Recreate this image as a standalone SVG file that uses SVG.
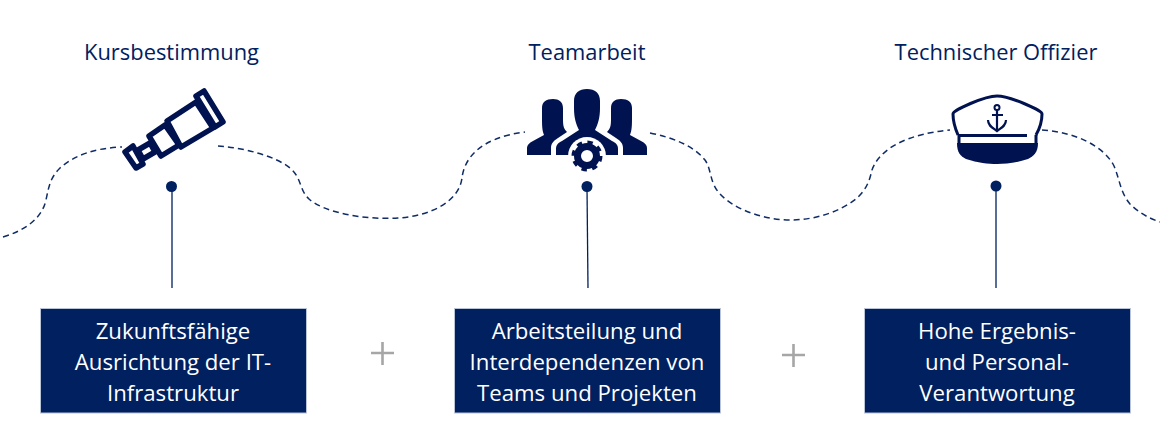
<svg xmlns="http://www.w3.org/2000/svg" width="1160" height="432" viewBox="0 0 1160 432">
<style>
.t{font-family:"Open Sans","Noto Sans",sans-serif;font-size:21.9px;fill:#002060;text-anchor:middle}
.b{font-family:"Open Sans","Noto Sans",sans-serif;font-size:22.2px;fill:#fff;text-anchor:middle}
.box{fill:#002060;stroke:#b9c4d8;stroke-width:1}
.dash{fill:none;stroke:#0f2c66;stroke-width:1.5;stroke-dasharray:6 4}
.line{fill:none;stroke:#002060;stroke-width:1.3}
.dot{fill:#002060}
.plus{stroke:#a6a6a6;stroke-width:2.6;fill:none}
.ic{fill:#00124f}
.icl{fill:none;stroke:#00124f;stroke-linejoin:round}
</style>
<rect width="1160" height="432" fill="#fff"/>
<g id="connectors">
<path class="dash" d="M3 237C26 230 42 218 46 200C49 186 50 178 60 168C75 155 95 148 122 147"/>
<path class="dash" d="M218 146C245 148 275 156 290 168C302 178 299 190 309 199C325 213 365 220 398 218C430 216 459 202 462 178C464 160 478 138 525 132"/>
<path class="dash" d="M650 133C675 138 695 147 705 160C712 170 709 182 720 194C735 210 765 220 790 220C815 220 840 212 857 198C868 188 870 178 872 170C880 148 908 134 950 130"/>
<path class="dash" d="M1042 130C1075 132 1104 146 1114 166C1120 180 1120 192 1130 204C1138 212 1148 218 1160 222"/>
<line class="line" x1="172" y1="187" x2="172" y2="288"/>
<line class="line" x1="587" y1="187" x2="588" y2="288"/>
<line class="line" x1="996" y1="186" x2="996" y2="288"/>
<circle class="dot" cx="171.500" cy="186.500" r="5.500"/>
<circle class="dot" cx="587" cy="186.500" r="5.500"/>
<circle class="dot" cx="996" cy="186" r="5.500"/>
</g>
<g id="node-kurs">
<text class="t" x="171.500" y="60">Kursbestimmung</text>
<g class="icl" stroke-width="5.500">
<path d="M125 152L133 146L143 164L136 168Z"/>
<path d="M138 150L150 143L155 152L143 159Z"/>
<path d="M149 136L165 125L179 145L161 156Z"/>
<path d="M167 121L196 102L213 128L181 147Z"/>
<path d="M196 96L204 91L223 122L215 127Z"/>
</g>
</g>
<g id="node-team">
<text class="t" x="587" y="60">Teamarbeit</text>
<path class="ic" d="M527 155V148C527 145 529 143 533 141L544 135C542 130 542 125 542 116V108C542 102 546 99 553 99C559 99 563 102 563 108V120C563 126 564 129 567 132L558 138C553 141 551 144 551 148V155Z"/>
<path class="ic" d="M647 155V148C647 145 645 143 641 141L630 135C632 130 632 125 632 116V108C632 102 628 99 621 99C615 99 611 102 611 108V120C611 126 610 129 607 132L616 138C621 141 623 144 623 148V155Z"/>
<path class="ic" d="M556 155V149C556 145 558 143 562 141L579 130C576 124 574 118 574 108V101C574 93 579 89 587 89C595 89 600 93 600 101V108C600 118 598 124 595 130L612 141C616 143 618 145 618 149V155Z"/>
<g id="gear">
<circle cx="587" cy="156" r="19" fill="#fff"/>
<circle cx="587" cy="156" r="9.500" fill="none" stroke="#00124f" stroke-width="7"/>
<circle cx="587" cy="156" r="13.500" fill="none" stroke="#00124f" stroke-width="4" stroke-dasharray="5.300 5.300"/>
</g>
</g>
<g id="node-offizier">
<text class="t" x="996" y="60">Technischer Offizier</text>
<path d="M958 135C955 128 953 122 953 114C953 110 985 96 997 96C1009 96 1042 110 1042 114C1042 122 1040 128 1036 135" fill="none" stroke="#00124f" stroke-width="3"/>
<path class="ic" d="M957 143H1038C1038 152 1034 156 1028 159C1016 163 1006 164 997 164C988 164 978 163 966 159C960 156 957 152 957 143Z"/>
<path d="M958 135.500H1027M959 135V144M1036 135V144" stroke="#00124f" stroke-width="3" fill="none"/>
<circle cx="997" cy="107.500" r="2.500" fill="none" stroke="#00124f" stroke-width="2"/>
<path d="M997 110V131M992 115H1003M988 120C988 126 993 128 997 131C1001 128 1006 126 1006 120" fill="none" stroke="#00124f" stroke-width="2.200"/>
</g>
<g id="box-1">
<rect class="box" x="40.500" y="308.500" width="266" height="104.500"/>
<text class="b" x="173" y="338.500">Zukunftsfähige</text>
<text class="b" x="173" y="369.500">Ausrichtung der IT-</text>
<text class="b" x="173" y="400.500">Infrastruktur</text>
</g>
<g id="box-2">
<rect class="box" x="454.500" y="308.500" width="266" height="104.500"/>
<text class="b" x="587" y="338.500">Arbeitsteilung und</text>
<text class="b" x="587" y="369.500">Interdependenzen von</text>
<text class="b" x="587" y="400.500">Teams und Projekten</text>
</g>
<g id="box-3">
<rect class="box" x="864.500" y="308.500" width="266" height="104.500"/>
<text class="b" x="997" y="338.500">Hohe Ergebnis-</text>
<text class="b" x="997" y="369.500">und Personal-</text>
<text class="b" x="997" y="400.500">Verantwortung</text>
</g>
<g id="plus-1"><path class="plus" d="M371 353H394M382.500 342V365"/></g>
<g id="plus-2"><path class="plus" d="M782 355H805M793.500 344V367"/></g>
</svg>
